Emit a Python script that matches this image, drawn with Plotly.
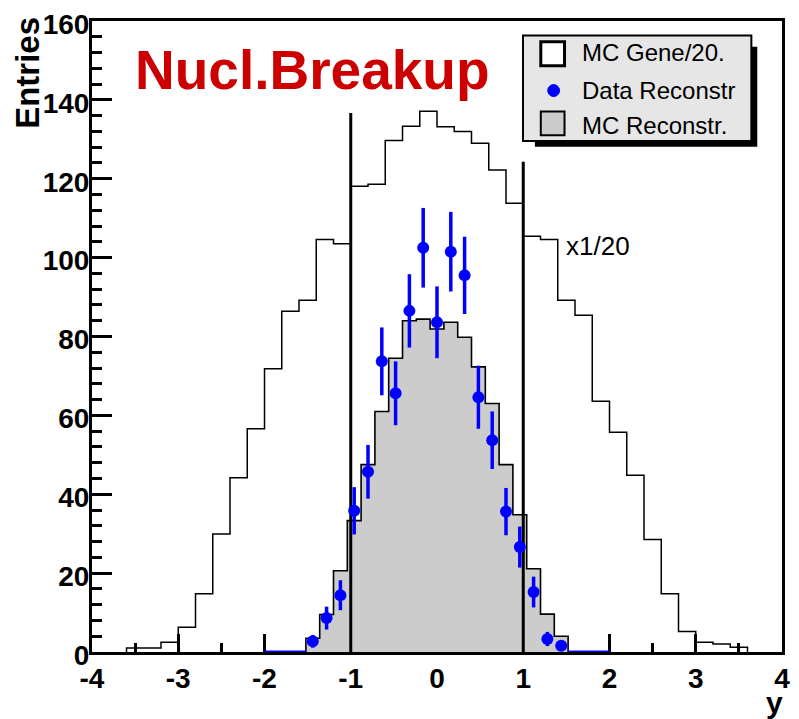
import numpy as np
import plotly.graph_objects as go

# ---------------- data ----------------
# MC generated (divided by 20), bins of 0.2 from -3.6 to 3.6
gen_edges = np.round(np.linspace(-3.6, 3.6, 37), 3)
gen_values = [1.0, 1.0, 2.5, 6.3, 14.8, 29.9, 44.2, 56.6, 71.8, 86.4, 89.2, 104.6,
              103.5, 118.1, 118.6, 129.7, 133.3, 137.1, 133.2, 132.0, 129.0, 122.2,
              113.8, 105.4, 104.6, 89.2, 85.4, 63.6, 55.7, 44.8, 28.5, 14.8, 5.2,
              2.5, 2.0, 1.2]

# reconstructed histograms, 25 bins from -2 to 2
reco_edges = np.round(np.linspace(-2.0, 2.0, 26), 3)
mc_reco_values = [0, 0, 0, 3.5, 9.5, 20.6, 33.3, 47.5, 61.0, 74.5, 84.0, 84.4, 81.9,
                  83.6, 79.8, 72.3, 63.0, 47.5, 34.8, 21.1, 9.6, 4.0, 0, 0, 0]
data_values = [0, 0, 0, 2.7, 8.6, 14.4, 35.8, 45.7, 73.7, 65.6, 86.5, 102.5, 83.6,
               101.5, 95.5, 64.6, 53.7, 35.6, 26.6, 15.2, 3.3, 1.6, 0, 0, 0]
data_errors = [0, 0, 0, 1.6, 2.9, 3.8, 6.0, 6.8, 8.6, 8.1, 9.3, 10.1, 9.1,
               10.1, 9.8, 8.0, 7.3, 6.0, 5.2, 3.9, 1.8, 1.3, 0, 0, 0]

# cut lines
cut_x = [-1.0, 1.0]
cut_top = [136.7, 124.3]

# tick labels
x_tick_vals = [-4, -3, -2, -1, 0, 1, 2, 3, 4]
x_tick_text = ["-4", "-3", "-2", "-1", "0", "1", "2", "3", "4"]
y_tick_vals = [0, 20, 40, 60, 80, 100, 120, 140, 160]
y_tick_text = ["0", "20", "40", "60", "80", "100", "120", "140", "160"]

title_text = "Nucl.Breakup"
legend_labels = ["MC Gene/20.", "Data Reconstr", "MC Reconstr."]
scale_label = "x1/20"
scale_pos = (1.47, 103)

# ---------------- helpers ----------------
def step_xy(edges, vals):
    xs = [edges[0]]
    ys = [0]
    for i, v in enumerate(vals):
        xs += [edges[i], edges[i + 1]]
        ys += [v, v]
    xs.append(edges[-1])
    ys.append(0)
    return xs, ys

W, H = 799, 719
ML, MR, MT, MB = 92, 9, 17, 67
PW, PH = W - ML - MR, H - MT - MB

def px(xp):
    return (xp - ML) / PW

def py(yp):
    return (MT + PH - yp) / PH

FONT = "Liberation Sans, Arial, sans-serif"

fig = go.Figure()

# MC reconstructed (grey filled)
gx, gy = step_xy(reco_edges, mc_reco_values)
fig.add_trace(go.Scatter(x=gx, y=gy, mode="lines", fill="tozeroy",
                         fillcolor="#cccccc", line=dict(color="black", width=1.6),
                         showlegend=False, hoverinfo="skip"))

# MC generated outline
hx, hy = step_xy(gen_edges, gen_values)
fig.add_trace(go.Scatter(x=hx, y=hy, mode="lines",
                         line=dict(color="black", width=1.5),
                         showlegend=False, hoverinfo="skip"))

# cut lines
for cx, ct in zip(cut_x, cut_top):
    fig.add_trace(go.Scatter(x=[cx, cx], y=[0, ct], mode="lines",
                             line=dict(color="black", width=3),
                             showlegend=False, hoverinfo="skip"))

# data: zero bins drawn as blue line on axis
centers = (reco_edges[:-1] + reco_edges[1:]) / 2
zx, zy = [], []
for i, v in enumerate(data_values):
    if v == 0:
        zx += [reco_edges[i], reco_edges[i + 1], None]
        zy += [0, 0, None]
fig.add_trace(go.Scatter(x=zx, y=zy, mode="lines", line=dict(color="#0000ff", width=3),
                         showlegend=False, hoverinfo="skip"))

mask = [v > 0 for v in data_values]
fig.add_trace(go.Scatter(
    x=[c for c, m in zip(centers, mask) if m],
    y=[v for v, m in zip(data_values, mask) if m],
    mode="markers",
    marker=dict(color="#0000ff", size=12, symbol="circle"),
    error_y=dict(type="data", array=[e for e, m in zip(data_errors, mask) if m],
                 color="#0000ff", thickness=3.5, width=0),
    showlegend=False, hoverinfo="skip", cliponaxis=False))

tickfont = dict(family=FONT, size=28, color="black", weight="bold")

fig.update_xaxes(range=[-4, 4], showgrid=False, zeroline=False,
                 showline=True, linecolor="black", linewidth=3, mirror=True,
                 ticks="inside", tickwidth=2.5, ticklen=18, tickcolor="black",
                 tickmode="array", tickvals=x_tick_vals, ticktext=x_tick_text,
                 minor=dict(ticks="inside", ticklen=9, tickwidth=2.5, dtick=0.5,
                            tick0=-4, tickcolor="black", showgrid=False),
                 tickfont=tickfont, layer="below traces", ticklabelstandoff=-1)
fig.update_yaxes(range=[0, 160], showgrid=False, zeroline=False,
                 showline=True, linecolor="black", linewidth=3, mirror=True,
                 ticks="inside", tickwidth=2.5, ticklen=20, tickcolor="black",
                 tickmode="array", tickvals=y_tick_vals, ticktext=y_tick_text,
                 minor=dict(ticks="inside", ticklen=10, tickwidth=2.5, dtick=4,
                            tick0=0, tickcolor="black", showgrid=False),
                 tickfont=tickfont, layer="below traces", ticklabelstandoff=-6,
                 ticklabelshift=3)

shapes = []
annotations = []

# legend: shadow, box, symbols
shapes.append(dict(type="rect", xref="paper", yref="paper",
                   x0=px(540), x1=px(765), y0=py(143.5), y1=py(43),
                   fillcolor="black", line=dict(width=0)))
shapes.append(dict(type="rect", xref="paper", yref="paper",
                   x0=px(528), x1=px(759), y0=py(137.7), y1=py(31.7),
                   fillcolor="#e6e6e6", line=dict(color="black", width=2)))
shapes.append(dict(type="rect", xref="paper", yref="paper",
                   x0=px(546), x1=px(570), y0=py(62), y1=py(38),
                   fillcolor="white", line=dict(color="black", width=3)))
shapes.append(dict(type="circle", xref="paper", yref="paper",
                   x0=px(553), x1=px(565), y0=py(93), y1=py(81),
                   fillcolor="#0000ff", line=dict(color="#0000ff", width=1)))
shapes.append(dict(type="rect", xref="paper", yref="paper",
                   x0=px(546), x1=px(570), y0=py(132), y1=py(108),
                   fillcolor="#cccccc", line=dict(color="black", width=2)))
for lbl, yc in zip(legend_labels, [49, 87, 122]):
    annotations.append(dict(text=lbl, xref="paper", yref="paper",
                            x=px(586), y=py(yc), xanchor="left", yanchor="middle",
                            showarrow=False,
                            font=dict(family=FONT, size=24, color="black")))

# title
annotations.append(dict(text=title_text, xref="paper", yref="paper",
                        x=px(133), y=py(66), xanchor="left", yanchor="middle",
                        showarrow=False,
                        font=dict(family=FONT, size=55, color="#cc0000", weight="bold")))

# x1/20 label
annotations.append(dict(text=scale_label, xref="x", yref="y",
                        x=scale_pos[0], y=scale_pos[1], xanchor="left", yanchor="middle",
                        showarrow=False,
                        font=dict(family=FONT, size=26, color="black")))

# axis titles
annotations.append(dict(text="Entries", xref="paper", yref="paper",
                        x=px(26), y=py(11), xanchor="center", yanchor="top",
                        textangle=-90, showarrow=False,
                        font=dict(family=FONT, size=33, color="black", weight="bold")))
annotations.append(dict(text="y", xref="paper", yref="paper",
                        x=px(782), y=py(703), xanchor="center", yanchor="middle",
                        showarrow=False,
                        font=dict(family=FONT, size=30, color="black", weight="bold")))

fig.update_layout(width=W, height=H,
                  margin=dict(l=ML, r=MR, t=MT, b=MB, pad=0),
                  paper_bgcolor="white", plot_bgcolor="white",
                  shapes=shapes, annotations=annotations, showlegend=False)

fig.write_html("out.html")
